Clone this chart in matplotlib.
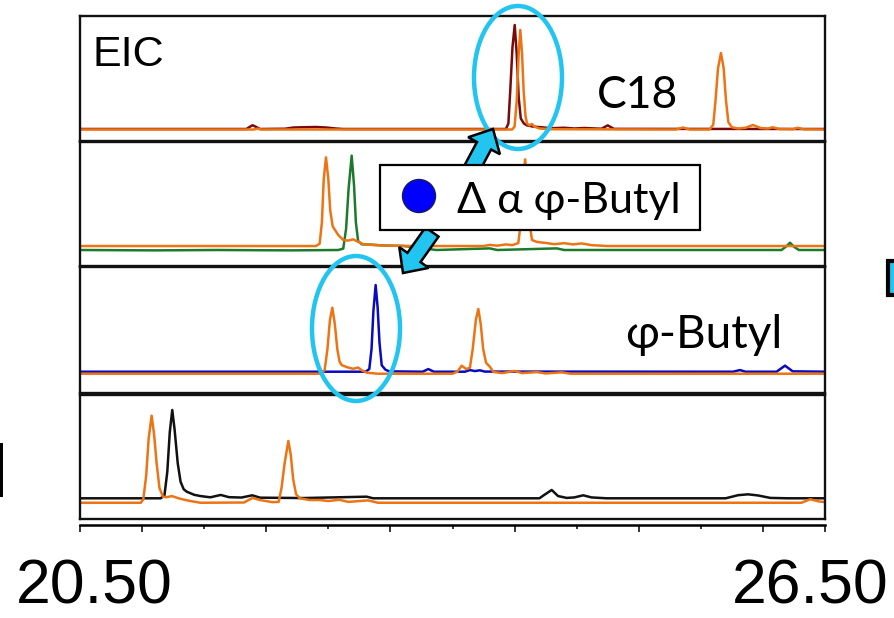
import numpy as np
import matplotlib
matplotlib.use("Agg")
import matplotlib.pyplot as plt
from matplotlib.patches import Ellipse, Rectangle, FancyArrow, Circle

# ── chromatogram traces: (retention time [min], relative intensity [% of panel]) ──
C18_MAROON = [(20.50, 9.6), (21.84, 9.6), (21.87, 11.5), (21.89, 12.6), (21.92, 11.2), (21.95, 9.6),
              (22.15, 9.8), (22.22, 10.8), (22.30, 11.0), (22.40, 11.2), (22.48, 10.8), (22.56, 10.0),
              (22.62, 9.6), (23.93, 9.6), (23.95, 14), (23.965, 40), (23.983, 75), (24.001, 92.8),
              (24.017, 70), (24.033, 35), (24.05, 18), (24.075, 14), (24.10, 12.5), (24.15, 11.5),
              (24.22, 11.0), (24.29, 10.2), (24.40, 10.6), (24.48, 10.0), (24.56, 10.4), (24.70, 9.8),
              (24.75, 12.5), (24.80, 9.7), (26.50, 9.6)]
C18_ORANGE = [(20.50, 9.2), (21.90, 9.2), (21.93, 9.9), (21.96, 9.2), (23.98, 9.2), (24.00, 11.5),
              (24.017, 32), (24.032, 68), (24.046, 88.8), (24.06, 70), (24.073, 40), (24.088, 20),
              (24.10, 14), (24.12, 12.5), (24.14, 13.6), (24.16, 11.5), (24.20, 10.0), (24.30, 9.4),
              (25.30, 9.2), (25.356, 10.8), (25.41, 9.2), (25.57, 9.2), (25.60, 13), (25.618, 32),
              (25.638, 58), (25.662, 70.4), (25.684, 58), (25.703, 32), (25.722, 15), (25.75, 11),
              (25.80, 10.0), (25.86, 10.6), (25.92, 12.8), (25.98, 10.4), (26.04, 10.0), (26.08, 11.0),
              (26.13, 9.6), (26.24, 9.4), (26.28, 10.6), (26.33, 9.3), (26.50, 9.2)]

MID_ORANGE = [(20.50, 16.1), (22.40, 16.1), (22.43, 18), (22.448, 35), (22.463, 70), (22.481, 87.6),
              (22.50, 70), (22.515, 45), (22.535, 32), (22.554, 29), (22.58, 25), (22.62, 21),
              (22.66, 20.5), (22.70, 21.5), (22.74, 19.5), (22.78, 17.7), (22.85, 17.0), (22.97, 16.4),
              (23.20, 16.1), (23.75, 16.1), (23.80, 17.0), (23.86, 16.4), (23.93, 17.4), (23.98, 16.8),
              (24.03, 18.5), (24.05, 35), (24.07, 72), (24.085, 86), (24.10, 70), (24.12, 35),
              (24.14, 21), (24.18, 19.4), (24.25, 18.6), (24.32, 17.6), (24.40, 18.4), (24.47, 17.4),
              (24.54, 18.2), (24.62, 16.8), (24.75, 16.1), (26.50, 16.1)]
MID_GREEN = [(20.50, 12.9), (21.10, 12.6), (21.60, 12.9), (22.20, 12.6), (22.58, 12.9), (22.62, 14),
             (22.643, 30), (22.663, 62), (22.688, 89), (22.707, 65), (22.722, 35), (22.74, 20),
             (22.77, 17.5), (22.85, 17.2), (22.95, 16.5), (23.10, 16.2), (23.25, 14.5), (23.37, 12.9),
             (23.80, 14.2), (23.86, 12.9), (24.34, 14.2), (24.40, 12.9), (26.15, 12.9), (26.19, 16),
             (26.218, 18.8), (26.25, 15.5), (26.29, 12.9), (26.50, 12.9)]

PHB_BLUE = [(20.50, 16.9), (22.80, 16.9), (22.83, 19), (22.848, 35), (22.863, 65), (22.881, 85.7),
            (22.897, 68), (22.912, 40), (22.93, 22), (22.96, 18.5), (22.99, 17.2), (23.26, 16.9),
            (23.305, 19), (23.35, 16.9), (23.60, 16.9), (23.64, 18.2), (23.68, 17.4), (23.72, 18.0),
            (23.76, 17.0), (25.76, 16.9), (25.815, 18.2), (25.86, 16.9), (26.11, 16.9),
            (26.178, 21.7), (26.24, 17.2), (26.50, 16.9)]
PHB_ORANGE = [(20.50, 15.3), (22.44, 15.3), (22.47, 18), (22.493, 35), (22.513, 58), (22.532, 67.7),
              (22.552, 55), (22.572, 35), (22.59, 25), (22.607, 22.2), (22.65, 20.5), (22.70, 19.2),
              (22.74, 20.2), (22.77, 18), (22.81, 16.1), (22.90, 15.3), (23.50, 15.3), (23.54, 17),
              (23.574, 21.7), (23.61, 19), (23.64, 20), (23.663, 35), (23.688, 58), (23.708, 66.7),
              (23.727, 55), (23.747, 35), (23.77, 24), (23.80, 20.9), (23.83, 16.7), (23.90, 15.8),
              (24.00, 17.5), (24.06, 15.8), (24.18, 16.6), (24.25, 15.5), (24.38, 16.4), (24.45, 15.3),
              (26.50, 15.3)]

LOW_BLACK = [(20.50, 16.7), (21.15, 16.7), (21.18, 19), (21.203, 38), (21.223, 70), (21.243, 87.9),
             (21.262, 72), (21.287, 45), (21.31, 30), (21.335, 24), (21.36, 22), (21.42, 19.5),
             (21.47, 18.5), (21.55, 17.5), (21.633, 19.4), (21.70, 17.6), (21.80, 17.3), (21.888, 19.1),
             (21.95, 17.2), (22.30, 16.9), (22.809, 18.0), (22.86, 16.7), (24.20, 16.7), (24.24, 19.5),
             (24.299, 23.4), (24.35, 18.5), (24.42, 17.0), (24.48, 17.4), (24.553, 19.1), (24.62, 17.4),
             (24.74, 16.7), (25.70, 16.7), (25.80, 19.2), (25.88, 19.9), (25.96, 19.0), (26.06, 17.0),
             (26.20, 16.7), (26.50, 16.7)]
LOW_ORANGE = [(20.50, 13.1), (20.99, 13.1), (21.01, 16), (21.033, 35), (21.053, 65), (21.077, 83.3),
              (21.097, 68), (21.117, 45), (21.14, 25), (21.168, 18), (21.20, 17.6), (21.24, 18.5),
              (21.30, 16.5), (21.35, 15.3), (21.39, 14.5), (21.47, 13.1), (21.82, 13.3), (21.89, 17.0),
              (21.95, 15.3), (22.05, 13.6), (22.10, 13.8), (22.123, 25), (22.148, 45), (22.178, 62.9),
              (22.197, 52), (22.217, 32), (22.24, 20), (22.27, 16.7), (22.35, 15.3), (22.43, 15.3),
              (22.50, 14.5), (22.59, 15.5), (22.66, 13.8), (22.82, 15.0), (22.90, 13.1), (26.31, 13.1),
              (26.38, 15.9), (26.45, 14.2), (26.50, 13.6)]

X_MIN, X_MAX = 20.5, 26.5
MAJOR_TICKS = [20.5, 21, 22, 23, 24, 25, 26, 26.5]
MINOR_TICKS = [21.5, 22.5, 23.5, 24.5, 25.5]

# ── colours ────────────────────────────────────────────────────────────────
ORANGE = "#ED7414"
MAROON = "#7A0A0A"
GREEN = "#1C7A2C"
BLUE = "#0A0ABE"
BLACK = "#111111"
CYAN = "#22C4F0"

W, H = 894, 618
fig = plt.figure(figsize=(W / 100, H / 100), dpi=100)


def px_rect(left, top, right, bottom):
    return [left / W, 1 - bottom / H, (right - left) / W, (bottom - top) / H]


# panels stacked top to bottom: pixel top / bottom
PANELS = [
    ((16, 141), [(C18_MAROON, MAROON), (C18_ORANGE, ORANGE)]),
    ((142, 266), [(MID_GREEN, GREEN), (MID_ORANGE, ORANGE)]),
    ((267, 393), [(PHB_BLUE, BLUE), (PHB_ORANGE, ORANGE)]),
    ((395, 519), [(LOW_BLACK, BLACK), (LOW_ORANGE, ORANGE)]),
]

for (top, bottom), traces in PANELS:
    ax = fig.add_axes(px_rect(80, top, 825, bottom))
    for pts, color in traces:
        t, y = np.array(pts).T
        ax.plot(t, y, color=color, lw=1.8, solid_joinstyle="round")
    ax.set_xlim(X_MIN, X_MAX)
    ax.set_ylim(0, 100)
    ax.set_xticks([])
    ax.set_yticks([])
    for sp in ax.spines.values():
        sp.set_linewidth(1.7)
        sp.set_color("#111111")

# retention-time ruler below the stack, ticks hanging down from the line
axr = fig.add_axes(px_rect(80, 525, 825, 526))
axr.set_xlim(X_MIN, X_MAX)
axr.set_ylim(0, 1)
axr.set_yticks([])
axr.patch.set_alpha(0)
for side in ("left", "right", "bottom"):
    axr.spines[side].set_visible(False)
axr.spines["top"].set_linewidth(1.8)
axr.xaxis.set_ticks_position("top")
axr.set_xticks(MAJOR_TICKS)
axr.set_xticks(MINOR_TICKS, minor=True)
axr.tick_params(axis="x", which="major", direction="in", length=4.8, width=1.1,
                labeltop=False, labelbottom=False)
axr.tick_params(axis="x", which="minor", direction="in", length=3.2, width=1.1)

# overlay in pixel coordinates for annotations
ov = fig.add_axes([0, 0, 1, 1], zorder=10)
ov.set_xlim(0, W)
ov.set_ylim(H, 0)
ov.axis("off")
ov.patch.set_alpha(0)

# highlight ellipses
ov.add_patch(Ellipse((518, 77.5), 88, 143, fill=False, ec=CYAN, lw=3.2, zorder=5))
ov.add_patch(Ellipse((356, 328.5), 88, 145, fill=False, ec=CYAN, lw=3.2, zorder=5))

# block arrows to and from the label
ov.add_patch(FancyArrow(470, 172, 23, -43, width=16, head_width=36, head_length=19,
                        length_includes_head=True, fc=CYAN, ec="black", lw=1.8, zorder=6))
ov.add_patch(FancyArrow(432, 232, -29, 41, width=16, head_width=36, head_length=19,
                        length_includes_head=True, fc=CYAN, ec="black", lw=1.8, zorder=6))

# label box
ov.add_patch(Rectangle((380, 164.5), 320, 65, fc="white", ec="black", lw=1.6, zorder=7))
ov.add_patch(Circle((419, 196), 16.5, fc="#0000FF", ec="#1A1A5A", lw=1, zorder=8))
ov.text(457, 213, "Δ α φ-Butyl", fontsize=31, family=["Lato", "Noto Sans", "DejaVu Sans"],
        ha="left", va="baseline", zorder=8)

# panel labels
ov.text(92, 66, "EIC", fontsize=31, family="Liberation Sans", ha="left", va="baseline")
ov.text(597, 108, "C18", fontsize=32, family=["Lato", "Noto Sans"], ha="left", va="baseline")
ov.text(625, 348, "φ-Butyl", fontsize=33, family=["Lato", "Noto Sans", "DejaVu Sans"],
        ha="left", va="baseline")

# axis end labels
ov.text(94, 617, "20.50", fontsize=45, family="Liberation Sans", ha="center", va="bottom")
ov.text(810, 617, "26.50", fontsize=45, family="Liberation Sans", ha="center", va="bottom")

# edge fragments
ov.add_patch(Rectangle((0, 443), 3, 54, fc="black", ec="none"))
ov.add_patch(Rectangle((887.5, 260.5), 20, 34, fc=CYAN, ec="black", lw=3))

fig.savefig("out.png", dpi=100)
